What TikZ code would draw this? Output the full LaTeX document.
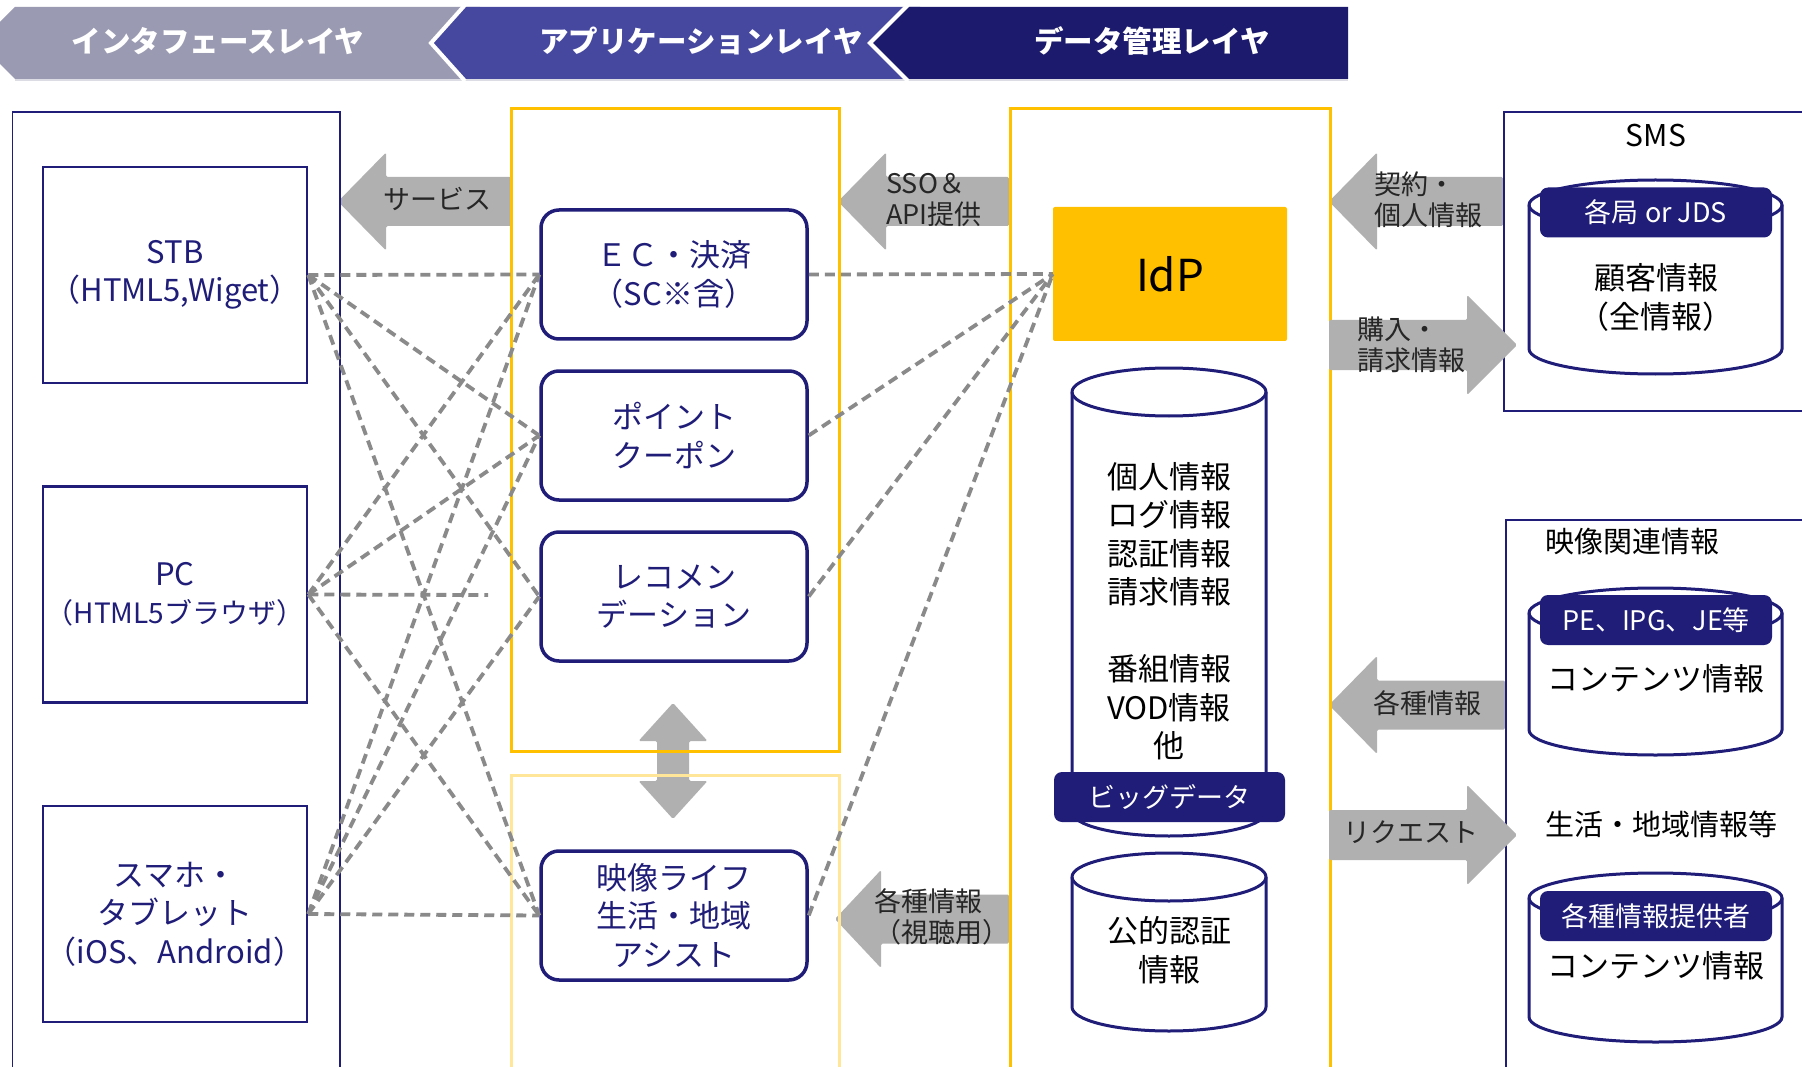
\documentclass[tikz,border=0pt]{standalone}
\usepackage{fontspec}
\setmainfont{Noto Sans CJK JP}
\usetikzlibrary{positioning,calc}

\definecolor{hdrgrey}{HTML}{9A9AB2}
\definecolor{hdrblue}{HTML}{4648A0}
\definecolor{hdrnavy}{HTML}{1C1A6C}
\definecolor{boxnavy}{HTML}{1F1D78}
\definecolor{idpyellow}{HTML}{FFC000}
\definecolor{paleyellow}{HTML}{FFE699}
\definecolor{arrgrey}{HTML}{B0B0B0}
\definecolor{lnkgrey}{HTML}{8A8A8A}

\newcommand{\setfs}[2]{\fontsize{#1}{#2}\selectfont}
% drum: left x, right x, top y, bottom y, y radius
\newcommand{\dbdrum}[5]{%
  \pgfmathsetmacro\drx{(#2-#1)/2}
  \filldraw[drum] (#1,#3+#5) -- (#1,#4-#5) arc[start angle=180,end angle=360,x radius=\drx pt,y radius=#5pt]
    -- (#2,#3+#5) arc[start angle=0,end angle=180,x radius=\drx pt,y radius=#5pt] -- cycle;
  \draw[drum,fill=none] (#1,#3+#5) arc[start angle=180,end angle=360,x radius=\drx pt,y radius=#5pt];
}

\begin{document}
\begin{tikzpicture}[x=1pt,y=-1pt,
  hdrtxt/.style={text=white,font=\bfseries\setfs{29.5}{35}},
  devbox/.style={draw=boxnavy,line width=2.5pt,fill=white,minimum width=264pt,minimum height=216pt,align=center,text=boxnavy,inner sep=0pt,font=\setfs{31}{38.5}},
  appbox/.style={draw=boxnavy,line width=3.5pt,rounded corners=18pt,fill=white,minimum width=266pt,minimum height=129pt,align=center,text=boxnavy,inner sep=0pt,font=\setfs{31}{38.5}},
  outerframe/.style={draw=boxnavy,line width=1.5pt,anchor=north west,inner sep=0pt},
  layerframe/.style={draw=idpyellow,line width=3pt,anchor=north west,inner sep=0pt},
  blockarr/.style={fill=arrgrey,rounded corners=1.5pt},
  arrlbl/.style={align=left,text=black!85,inner sep=0pt,font=\setfs{27}{31}},
  link/.style={draw=lnkgrey,line width=3.8pt,dash pattern=on 10pt off 6pt},
  drum/.style={draw=boxnavy,line width=3pt,fill=white},
  banner/.style={fill=boxnavy,rounded corners=8pt,minimum width=232pt,minimum height=50pt,text=white,inner sep=0pt,font=\setfs{27}{32}},
  drumtxt/.style={align=center,text=black,inner sep=0pt,font=\setfs{31}{38.5}},
  sectlbl/.style={text=black,inner sep=0pt,font=\setfs{29}{35}}]

\fill[white] (0,0) rectangle (1802,1067);
\useasboundingbox (0,0) rectangle (1802,1067);

% layer header
\draw[hdrgrey!35,line width=1.5pt] (15,80) -- (1348,80);
\fill[hdrgrey] (15,7) -- (480,7) -- (480,79) -- (15,79) -- (0,64) -- (0,22) -- cycle;
\fill[hdrblue] (465,7) -- (920,7) -- (920,79) -- (465,79) -- (431,43) -- cycle;
\fill[hdrnavy] (908,7) -- (1348,7) -- (1348,79) -- (908,79) -- (870,43) -- cycle;
\draw[white,line width=4pt] (465,5) -- (431,43) -- (465,81);
\draw[white,line width=4pt] (908,5) -- (870,43) -- (908,81);
\node[hdrtxt] (lyrif) at (218,41) {インタフェースレイヤ};
\node[hdrtxt] (lyrapp) at (701,41) {アプリケーションレイヤ};
\node[hdrtxt] (lyrdata) at (1152,41) {データ管理レイヤ};

% block arrows
\fill[blockarr] (338,201.5) -- ++(48,-49) -- ++(0,24.5) -- (511,177) -- ++(0,49) -- (386,226) -- ++(0,24.5) -- cycle;
\fill[blockarr] (838,201.5) -- ++(48,-49) -- ++(0,24.5) -- (1009,177) -- ++(0,49) -- (886,226) -- ++(0,24.5) -- cycle;
\fill[blockarr] (835,919) -- ++(46,-49) -- ++(0,24.5) -- (1009,894.5) -- ++(0,49) -- (881,943.5) -- ++(0,24.5) -- cycle;
\fill[blockarr] (1329,201.5) -- ++(48,-49) -- ++(0,24.5) -- (1503,177) -- ++(0,49) -- (1377,226) -- ++(0,24.5) -- cycle;
\fill[blockarr] (1329,705) -- ++(48,-49) -- ++(0,24.5) -- (1505,680.5) -- ++(0,49) -- (1377,729.5) -- ++(0,24.5) -- cycle;
\fill[blockarr] (673,703) -- (707.5,741) -- (689,741) -- (689,781) -- (707.5,781) -- (673,819) -- (638.5,781) -- (657,781) -- (657,741) -- (638.5,741) -- cycle;

% frames
\node[outerframe,minimum width=327.5pt,minimum height=975pt] (ifframe) at (11.5,111.5) {};
\node[layerframe,minimum width=328pt,minimum height=643pt] (appframe) at (510,107) {};
\node[layerframe,draw=paleyellow,minimum width=328pt,minimum height=310pt] (lifeframe) at (510,774) {};
\node[layerframe,minimum width=320pt,minimum height=975pt] (dataframe) at (1009,107) {};
\node[outerframe,minimum width=320pt,minimum height=298.5pt] (smsframe) at (1503,111.5) {};
\node[outerframe,minimum width=320pt,minimum height=560pt] (vidframe) at (1505,519) {};

\fill[blockarr] (1329,320) -- (1467,320) -- ++(0,-25) -- (1517,345) -- (1467,395) -- ++(0,-25) -- (1329,370) -- cycle;
\fill[blockarr] (1329,810) -- (1467,810) -- ++(0,-25) -- (1517,835) -- (1467,885) -- ++(0,-25) -- (1329,860) -- cycle;

\node[arrlbl] (svclbl) at (437,199) {サービス};
\node[arrlbl,anchor=west] (ssolbl) at (886,199.5) {SSO＆\\API提供};
\node[arrlbl,anchor=west] (viewlbl) at (874,916.5) {各種情報\\（視聴用）};
\node[arrlbl,anchor=west] (ctrlbl) at (1374,199.5) {契約・\\個人情報};
\node[arrlbl,anchor=west] (buylbl) at (1357,344.5) {購入・\\請求情報};
\node[arrlbl] (infolbl) at (1427,703) {各種情報};
\node[arrlbl] (reqlbl) at (1411,832) {リクエスト};

% devices
\node[devbox] (stb) at (175,275) {STB\\（HTML5,Wiget）};
\node[devbox,below=101pt of stb] (pc) {PC\\{\setfs{28}{38.5}（HTML5ブラウザ）}};
\node[devbox,below=101pt of pc] (phone) {スマホ・\\タブレット\\（iOS、Android）};

% applications
\node[appbox] (ec) at (674,274.5) {ＥＣ・決済\\（SC※含）};
\node[appbox,below=28.5pt of ec] (point) {ポイント\\クーポン};
\node[appbox,below=28.5pt of point] (recom) {レコメン\\デーション};
\node[appbox,below=186.5pt of recom] (life) {映像ライフ\\生活・地域\\アシスト};

% data
\node[fill=idpyellow,rounded corners=2pt,minimum width=234pt,minimum height=134pt,font=\setfs{44}{50}] (idp) at (1170,274) {IdP};
\dbdrum{1072}{1266}{368}{836}{24}
\dbdrum{1072}{1266}{853}{1031}{24}
\node[drumtxt] (bigtxt) at (1169,611) {個人情報\\ログ情報\\認証情報\\請求情報\\[38.5pt]番組情報\\VOD情報\\他};
\node[banner,minimum width=231pt] (bigdata) at (1169.5,797) {ビッグデータ};
\node[drumtxt] (pubtxt) at (1169,950) {公的認証\\情報};

% external
\node[sectlbl,font=\setfs{30}{36}] (smslbl) at (1656,136) {SMS};
\dbdrum{1529}{1782}{180}{374}{25}
\node[banner] (kyoku) at (1656,212.5) {各局 or JDS};
\node[drumtxt] (custtxt) at (1656,297.5) {顧客情報\\（全情報）};
\node[sectlbl,anchor=west] (vidlbl) at (1545,542) {映像関連情報};
\dbdrum{1529}{1782}{588}{755}{25}
\node[banner] (epg) at (1656,620) {PE、IPG、JE等};
\node[drumtxt] (conttxt) at (1656,679) {コンテンツ情報};
\node[sectlbl,anchor=west] (lifelbl) at (1545,824) {生活・地域情報等};
\dbdrum{1529}{1782}{873}{1042}{25}
\node[banner] (provider) at (1656,916) {各種情報提供者};
\node[drumtxt] (conttxt2) at (1656,966) {コンテンツ情報};

% links
\coordinate (pcend) at (488,595);
\draw[link] (stb.east) -- (ec.west);
\draw[link] (stb.east) -- (point.west);
\draw[link] (stb.east) -- (recom.west);
\draw[link] (stb.east) -- (life.west);
\draw[link] (pc.east) -- (ec.west);
\draw[link] (pc.east) -- (point.west);
\draw[link] (pc.east) -- (pcend);
\draw[link] (pc.east) -- (life.west);
\draw[link] (phone.east) -- (ec.west);
\draw[link] (phone.east) -- (point.west);
\draw[link] (phone.east) -- (recom.west);
\draw[link] (phone.east) -- (life.west);
\draw[link] (ec.east) -- (idp.west);
\draw[link] (point.east) -- (idp.west);
\draw[link] (recom.east) -- (idp.west);
\draw[link] (life.east) -- (idp.west);
\end{tikzpicture}
\end{document}
